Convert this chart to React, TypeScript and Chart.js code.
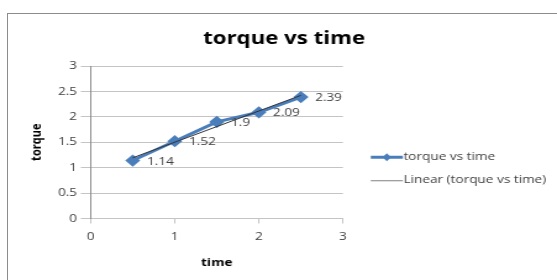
import React, { useEffect, useRef } from "react";
import { Chart, registerables } from "chart.js";

Chart.register(...registerables);

const chartTitle = "torque vs time";
const seriesLabel = "torque vs time";
const trendLabel = "Linear (torque vs time)";
const xAxisTitle = "time";
const yAxisTitle = "torque";
const timeValues = [0.5, 1, 1.5, 2, 2.5];
const torqueValues = [1.14, 1.52, 1.9, 2.09, 2.39];
const dataLabels = ["1.14", "1.52", "1.9", "2.09", "2.39"];
const xTickValues = [0, 1, 2, 3];
const yTickValues = [0, 0.5, 1, 1.5, 2, 2.5, 3];

// The reference picture is stretched horizontally; the canvas is drawn narrower and widened by CSS.
const STRETCH = 1.235;
const CANVAS_W = 451;
const CANVAS_H = 280;

const FONT = "'Open Sans', 'Liberation Sans', sans-serif";
const BLUE = "#4a7ebb";
const TREND = "#333333";
const GRID = "#c4c4c4";
const AXIS = "#8c8c8c";
const TEXT = "#404040";

function linearFit(xs: number[], ys: number[]) {
  const n = xs.length;
  const mx = xs.reduce((a, b) => a + b, 0) / n;
  const my = ys.reduce((a, b) => a + b, 0) / n;
  let sxy = 0;
  let sxx = 0;
  for (let i = 0; i < n; i++) {
    sxy += (xs[i] - mx) * (ys[i] - my);
    sxx += (xs[i] - mx) * (xs[i] - mx);
  }
  const slope = sxy / sxx;
  return { slope, intercept: my - slope * mx };
}

const titleAndLabels = {
  id: "titleAndLabels",
  afterDraw(chart: any) {
    const ctx = chart.ctx;
    ctx.save();
    ctx.font = `bold 18px ${FONT}`;
    ctx.fillStyle = "#000000";
    ctx.textAlign = "center";
    ctx.textBaseline = "middle";
    ctx.fillText(chartTitle, 230, 38.5);
    ctx.restore();
  },
  afterDatasetsDraw(chart: any) {
    const ctx = chart.ctx;
    const meta = chart.getDatasetMeta(0);
    ctx.save();
    ctx.font = `11px ${FONT}`;
    ctx.fillStyle = TEXT;
    ctx.textAlign = "left";
    ctx.textBaseline = "middle";
    meta.data.forEach((pt: any, i: number) => {
      ctx.fillText(dataLabels[i], pt.x + 11.5, pt.y + 1);
    });

    // legend
    const area = chart.chartArea;
    const lx = area.right + 22.5;
    const y1 = (area.top + area.bottom) / 2 + 15;
    const y2 = y1 + 23;
    const c0 = chart.data.datasets[0].borderColor;
    ctx.strokeStyle = c0;
    ctx.lineWidth = 3;
    ctx.beginPath();
    ctx.moveTo(lx, y1);
    ctx.lineTo(lx + 26, y1);
    ctx.stroke();
    ctx.fillStyle = c0;
    ctx.beginPath();
    ctx.moveTo(lx + 13, y1 - 4);
    ctx.lineTo(lx + 16.5, y1);
    ctx.lineTo(lx + 13, y1 + 4);
    ctx.lineTo(lx + 9.5, y1);
    ctx.closePath();
    ctx.fill();
    ctx.strokeStyle = "#808080";
    ctx.lineWidth = 1;
    ctx.beginPath();
    ctx.moveTo(lx, y2 + 0.5);
    ctx.lineTo(lx + 26, y2 + 0.5);
    ctx.stroke();
    ctx.fillStyle = TEXT;
    ctx.font = `11px ${FONT}`;
    ctx.fillText(chart.data.datasets[0].label, lx + 26.5, y1);
    ctx.fillText(chart.data.datasets[1].label, lx + 26.5, y2);
    ctx.restore();
  },
};

export default function App() {
  const ref = useRef<HTMLCanvasElement | null>(null);
  useEffect(() => {
    if (!ref.current) return;
    const fit = linearFit(timeValues, torqueValues);
    const x0 = timeValues[0];
    const x1 = timeValues[timeValues.length - 1];
    const chart = new Chart(ref.current, {
      type: "line",
      data: {
        datasets: [
          {
            label: seriesLabel,
            data: timeValues.map((x, i) => ({ x, y: torqueValues[i] })),
            borderColor: BLUE,
            backgroundColor: BLUE,
            borderWidth: 3,
            pointStyle: "rectRot",
            pointRadius: 4,
            pointBackgroundColor: BLUE,
            pointBorderColor: BLUE,
            order: 1,
          },
          {
            label: trendLabel,
            data: [
              { x: x0, y: fit.intercept + fit.slope * x0 },
              { x: x1, y: fit.intercept + fit.slope * x1 },
            ],
            borderColor: TREND,
            borderWidth: 1,
            pointRadius: 0,
            order: 0,
          },
        ],
      },
      options: {
        responsive: false,
        maintainAspectRatio: false,
        animation: false,
        layout: { padding: { left: 14, right: 173.3, top: 66, bottom: 6.5 } },
        plugins: {
          legend: { display: false },
          tooltip: { enabled: false },
          title: { display: false },
        },
        scales: {
          x: {
            type: "linear",
            min: 0,
            max: 3,
            afterBuildTicks: (s: any) => {
              s.ticks = xTickValues.map((v) => ({ value: v }));
            },
            afterFit: (s: any) => {
              s.height = 55;
            },
            ticks: {
              color: TEXT,
              font: { family: FONT, size: 11 },
              padding: 7,
              callback: (v: any) => String(v),
            },
            grid: { drawOnChartArea: false, drawTicks: true, tickLength: 5, color: GRID },
            border: { display: true, color: GRID },
            title: {
              display: true,
              text: xAxisTitle,
              color: "#000000",
              font: { family: FONT, size: 11, weight: "bold" },
              padding: { top: 0, bottom: 4 },
            },
          },
          y: {
            type: "linear",
            min: 0,
            max: 3,
            afterBuildTicks: (s: any) => {
              s.ticks = yTickValues.map((v) => ({ value: v }));
            },
            afterFit: (s: any) => {
              s.width = 59.4;
            },
            ticks: {
              color: TEXT,
              font: { family: FONT, size: 11 },
              padding: 3,
              callback: (v: any) => String(v),
            },
            grid: { drawTicks: true, tickLength: 8, color: GRID },
            border: { display: true, color: AXIS },
            title: {
              display: true,
              text: yAxisTitle,
              color: "#000000",
              font: { family: FONT, size: 11, weight: "bold" },
              padding: { top: 9, bottom: 0 },
            },
          },
        },
      },
      plugins: [titleAndLabels],
    } as any);
    return () => chart.destroy();
  }, []);
  return (
    <div style={{ position: "absolute", left: 0, top: 0, width: 557, height: 280, overflow: "hidden", background: "#ffffff" }}>
      <div
        style={{
          position: "absolute",
          left: 7,
          top: 13,
          width: 700,
          height: 400,
          border: "1px solid #8c8c8c",
          boxSizing: "border-box",
        }}
      />
      <div
        style={{
          position: "absolute",
          left: 0,
          top: 0,
          width: CANVAS_W,
          height: CANVAS_H,
          transform: `scaleX(${STRETCH})`,
          transformOrigin: "0 0",
        }}
      >
        <canvas ref={ref} width={CANVAS_W} height={CANVAS_H} style={{ display: "block" }} />
      </div>
    </div>
  );
}
